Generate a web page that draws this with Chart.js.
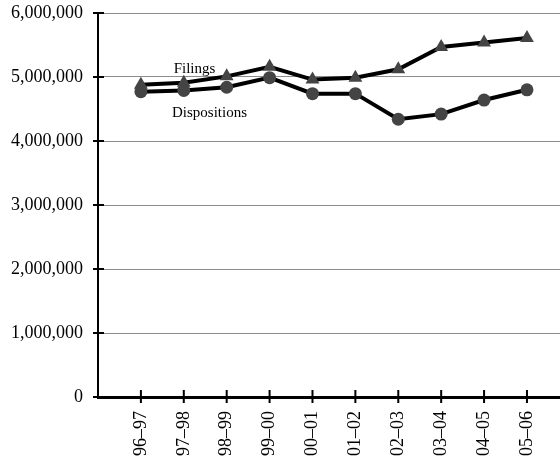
<!DOCTYPE html>
<html lang="en">

<head>
    <meta charset="UTF-8">
    <meta name="viewport" content="width=device-width, initial-scale=1.0">
    <title>Filings and Dispositions</title>
    <script src="https://cdn.jsdelivr.net/npm/chart.js"></script>
    <style>
        html, body { margin: 0; padding: 0; background: #ffffff; overflow: hidden; }
        .grafico { position: relative; width: 560px; height: 461px; }
    </style>
</head>

<body onload="plotarGrafico()">
    <div class="grafico">
        <canvas id="graficoLinha"></canvas>
    </div>
</body>
</html>
<script>
  var anos = ['96–97', '97–98', '98–99', '99–00', '00–01', '01–02', '02–03', '03–04', '04–05', '05–06']
  var filings = [4880000, 4910000, 5010000, 5160000, 4960000, 4990000, 5120000, 5470000, 5540000, 5610000]
  var dispositions = [4770000, 4790000, 4840000, 4990000, 4740000, 4740000, 4340000, 4420000, 4640000, 4800000]
  var ticksY = [0, 1000000, 2000000, 3000000, 4000000, 5000000, 6000000]

  var fonte = "'Liberation Serif', 'Times New Roman', serif"

  function montarPontos(valores){
    var pontos = []
    for(var posicao = 0; posicao < valores.length; posicao += 1){
      pontos.push({ x: posicao + 1, y: valores[posicao] })
    }
    return pontos
  }

  function semPadding(scale){
    scale.paddingTop = 0
    scale.paddingBottom = 0
    scale.paddingLeft = 0
    scale.paddingRight = 0
  }

  // tick marks crossing the axes + the two series names
  var extras = {
    id: 'extras',
    afterDraw: function(chart){
      var ctx = chart.ctx
      var x = chart.scales.x
      var y = chart.scales.y
      ctx.save()
      ctx.strokeStyle = '#000000'
      ctx.lineWidth = 2
      ctx.beginPath()
      for(var i = 0; i < anos.length; i += 1){
        var px = x.getPixelForValue(i + 1)
        ctx.moveTo(px, y.bottom - 7)
        ctx.lineTo(px, y.bottom + 6)
      }
      for(var j = 0; j < ticksY.length; j += 1){
        var py = y.getPixelForValue(ticksY[j])
        ctx.moveTo(x.left - 5, py)
        ctx.lineTo(x.left + 6, py)
      }
      ctx.stroke()

      ctx.fillStyle = '#000000'
      ctx.font = '15px ' + fonte
      ctx.textAlign = 'center'
      ctx.textBaseline = 'middle'
      ctx.fillText('Filings', x.getPixelForValue(2.25), y.getPixelForValue(5120000))
      ctx.fillText('Dispositions', x.getPixelForValue(2.6), y.getPixelForValue(4430000))
      ctx.restore()
    }
  }

  function plotarGrafico(){
    var grafico = document.getElementById('graficoLinha')

    new Chart(grafico, {
      type: 'line',
      data: {
        datasets: [{
          label: 'Dispositions',
          data: montarPontos(dispositions),
          borderColor: '#000000',
          borderWidth: 4,
          backgroundColor: '#444444',
          pointBackgroundColor: '#444444',
          pointBorderColor: '#444444',
          pointBorderWidth: 0,
          pointStyle: 'circle',
          pointRadius: 6.5,
          tension: 0
        }, {
          label: 'Filings',
          data: montarPontos(filings),
          borderColor: '#000000',
          borderWidth: 4,
          backgroundColor: '#444444',
          pointBackgroundColor: '#444444',
          pointBorderColor: '#444444',
          pointBorderWidth: 0,
          pointStyle: 'triangle',
          pointRadius: 8,
          tension: 0
        }]
      },
      options: {
        responsive: true,
        maintainAspectRatio: false,
        animation: false,
        layout: { autoPadding: false, padding: { top: 13, right: 0, left: 0, bottom: 0 } },
        plugins: {
          legend: { display: false },
          tooltip: { enabled: false }
        },
        scales: {
          x: {
            type: 'linear',
            min: 0,
            max: 10.77,
            afterBuildTicks: function(scale){
              scale.ticks = anos.map(function(a, i){ return { value: i + 1 } })
            },
            afterFit: function(scale){
              scale.height = 64
              semPadding(scale)
            },
            grid: { display: false, drawTicks: false },
            border: { display: true, color: '#000000', width: 3 },
            ticks: {
              autoSkip: false,
              maxRotation: 90,
              minRotation: 90,
              padding: 14,
              color: '#000000',
              font: { family: fonte, size: 18 },
              callback: function(valor){ return anos[valor - 1] }
            }
          },
          y: {
            min: 0,
            max: 6000000,
            afterBuildTicks: function(scale){
              scale.ticks = ticksY.map(function(v){ return { value: v } })
            },
            afterFit: function(scale){
              scale.width = 98
              semPadding(scale)
            },
            grid: { color: '#8c8c8c', lineWidth: 1, drawTicks: false },
            border: { display: true, color: '#000000', width: 2 },
            ticks: {
              padding: 15,
              color: '#000000',
              font: { family: fonte, size: 18 },
              callback: function(valor){ return valor.toLocaleString('en-US') }
            }
          }
        }
      },
      plugins: [extras]
    })
  }
</script>
